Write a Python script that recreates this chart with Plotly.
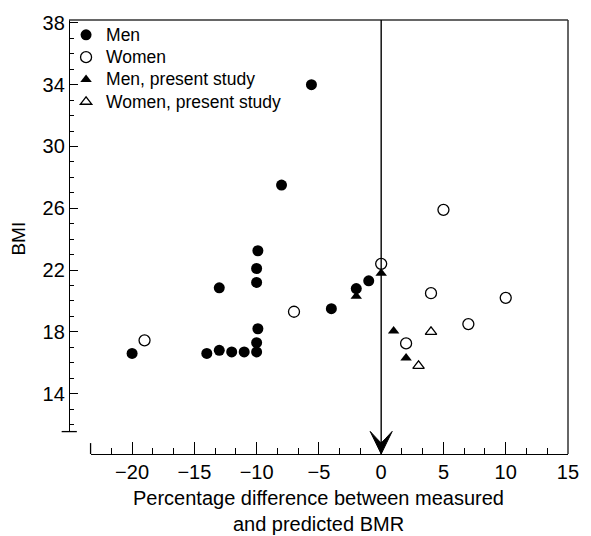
import plotly.graph_objects as go

# ---- data ----
men_x = [-20, -14, -13, -12, -11, -10, -10, -9.9, -10, -10, -9.9, -13, -8, -5.6, -4, -2, -1]
men_y = [16.6, 16.6, 16.8, 16.7, 16.7, 16.7, 17.3, 18.2, 21.2, 22.1, 23.25, 20.85, 27.5, 34.0, 19.5, 20.8, 21.3]

women_x = [-19, -7, 0, 5, 4, 10, 7, 2]
women_y = [17.45, 19.3, 22.4, 25.9, 20.5, 20.2, 18.5, 17.25]

men_study_x = [-2, 0, 1, 2]
men_study_y = [20.3, 21.8, 18.05, 16.3]

women_study_x = [4, 3]
women_study_y = [18.0, 15.8]

series_names = ["Men", "Women", "Men, present study", "Women, present study"]
x_ticks = [-20, -15, -10, -5, 0, 5, 10, 15]
y_ticks = [14, 18, 22, 26, 30, 34, 38]
reference_x = 0  # vertical arrow: measured == predicted

FONT = "Liberation Sans, Arial, Helvetica, sans-serif"


def legend_label(s):
    return '<span style="font-size:17.5px">' + s + "</span>"


fig = go.Figure()
fig.add_trace(go.Scatter(x=men_x, y=men_y, mode="markers", name=legend_label(series_names[0]),
                         marker=dict(symbol="circle", size=11, color="black")))
fig.add_trace(go.Scatter(x=women_x, y=women_y, mode="markers", name=legend_label(series_names[1]),
                         marker=dict(symbol="circle-open", size=11, color="black",
                                     line=dict(width=1.3, color="black"))))
fig.add_trace(go.Scatter(x=men_study_x, y=men_study_y, mode="markers", name=legend_label(series_names[2]),
                         marker=dict(symbol="triangle-up", size=10, color="black")))
fig.add_trace(go.Scatter(x=women_study_x, y=women_study_y, mode="markers", name=legend_label(series_names[3]),
                         marker=dict(symbol="triangle-up-open", size=10, color="black",
                                     line=dict(width=1.3, color="black"))))

L, R, T, B = 69, 13, 16.5, 81.7
W, H = 591, 536
pw = W - L - R
ph = H - T - B
x_start_px = 22.0          # gap between y axis and start of x axis
y_end_px = 22.6            # gap between x axis and end of y axis

fig.update_layout(
    width=W, height=H,
    margin=dict(l=L, r=R, t=T, b=B, pad=0),
    paper_bgcolor="white", plot_bgcolor="white",
    font=dict(family=FONT, color="black", size=19),
    showlegend=True,
    legend=dict(x=-3 / pw, y=1.003, xanchor="left", yanchor="top",
                font=dict(size=14.85, family=FONT, color="black"),
                bgcolor="rgba(0,0,0,0)", borderwidth=0,
                tracegroupgap=0, itemsizing="trace"),
    xaxis=dict(domain=[x_start_px / pw, 1], range=[-70 / 3, 15], anchor="free", position=0,
               showline=True, linecolor="black", linewidth=1.3,
               ticks="inside", ticklen=12, tickwidth=1.3, tickcolor="black",
               tickmode="array", tickvals=x_ticks,
               minor=dict(ticks="inside", ticklen=6, tickwidth=1.3, tickcolor="black",
                          tick0=0, dtick=5 / 3),
               showgrid=False, zeroline=False,
               tickfont=dict(size=20, family=FONT, color="black")),
    yaxis=dict(domain=[y_end_px / ph, 1], range=[11.54, 38.19], anchor="free", position=0,
               showline=True, linecolor="black", linewidth=1.3,
               ticks="inside", ticklen=8, tickwidth=1.3, tickcolor="black",
               tickmode="array", tickvals=y_ticks,
               minor=dict(ticks="inside", ticklen=4, tickwidth=1.3, tickcolor="black",
                          tick0=0, dtick=1),
               showgrid=False, zeroline=False,
               tickfont=dict(size=20, family=FONT, color="black")),
)

shapes = [
    # frame top and right
    dict(type="line", xref="paper", yref="paper", x0=0, x1=1, y0=1, y1=1,
         line=dict(color="#333", width=1.5)),
    dict(type="line", xref="paper", yref="paper", x0=1, x1=1, y0=0, y1=1,
         line=dict(color="#333", width=1.5)),
    # end bar of y axis
    dict(type="line", xref="paper", yref="paper", x0=-7.5 / pw, x1=8 / pw,
         y0=y_end_px / ph, y1=y_end_px / ph, line=dict(color="black", width=1.3)),
    # start tick of x axis
    dict(type="line", xref="paper", yref="paper", x0=x_start_px / pw, x1=x_start_px / pw,
         y0=0, y1=11 / ph, line=dict(color="black", width=1.3)),
    # vertical reference arrow line
    dict(type="line", xref="x", yref="paper", x0=reference_x, x1=reference_x, y0=0, y1=1,
         line=dict(color="black", width=1.4)),
    # arrow head (pixel sized, anchored at axis)
    dict(type="path", xref="x", yref="paper", xsizemode="pixel", ysizemode="pixel",
         xanchor=reference_x, yanchor=0,
         path="M0,0 L-11,22.6 Q-4,15 0,11 Q4,15 11,22.6 Z",
         fillcolor="black", line=dict(color="black", width=1)),
]
fig.update_layout(shapes=shapes)

fig.add_annotation(text="Percentage difference between measured<br>and predicted BMR",
                   xref="paper", yref="paper", x=0.5, y=-(512 - (H - B)) / ph,
                   xanchor="center", yanchor="middle", showarrow=False,
                   font=dict(size=20, family=FONT, color="black"))
fig.add_annotation(text="BMI", textangle=-90,
                   xref="paper", yref="paper", x=(18 - L) / pw, y=(H - B - 237) / ph,
                   xanchor="center", yanchor="middle", showarrow=False,
                   font=dict(size=19, family=FONT, color="black"))

fig.write_html("out.html")
